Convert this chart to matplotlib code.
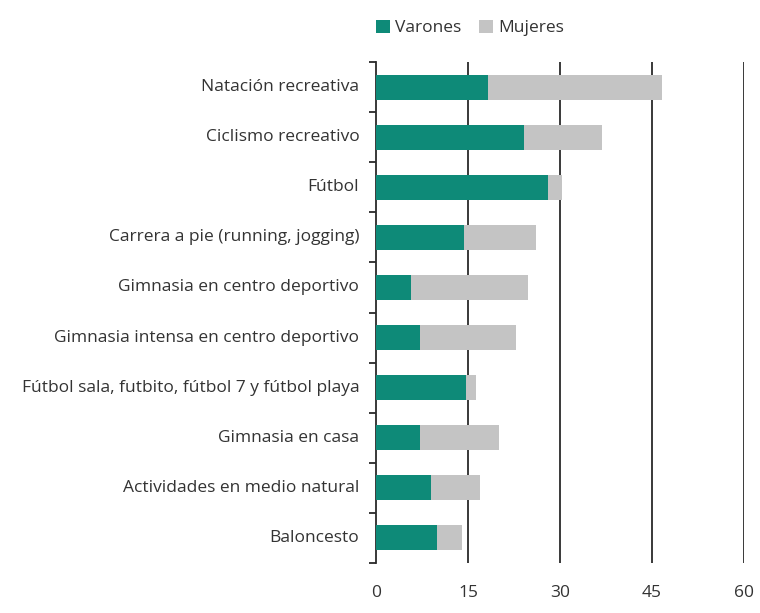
import numpy as np
import matplotlib
matplotlib.use('Agg')
import matplotlib.pyplot as plt

plt.rcParams['font.family'] = ['Open Sans', 'DejaVu Sans']

categorias = ['Natación recreativa', 'Ciclismo recreativo', 'Fútbol',
              'Carrera a pie (running, jogging)', 'Gimnasia en centro deportivo',
              'Gimnasia intensa en centro deportivo',
              'Fútbol sala, futbito, fútbol 7 y fútbol playa', 'Gimnasia en casa',
              'Actividades en medio natural', 'Baloncesto']
varones = [18.2, 24.2, 28.0, 14.3, 5.7, 7.2, 14.6, 7.1, 9.0, 10.0]
mujeres = [28.5, 12.7, 2.3, 11.8, 19.1, 15.6, 1.7, 12.9, 8.0, 4.0]
xticks = [0, 15, 30, 45, 60]

TEAL = '#0e8a78'; GRIS = '#c4c4c4'; TXT = '#333333'

fig = plt.figure(figsize=(7.6, 6.13), dpi=100)
ax = fig.add_axes([376/760, 1-563/613, (744-376)/760, (563-62)/613])
y = np.arange(len(categorias))
ax.barh(y, varones, height=0.5, color=TEAL, label='Varones', zorder=3)
ax.barh(y, mujeres, left=varones, height=0.5, color=GRIS, label='Mujeres', zorder=3)

for xv in xticks[1:]:
    ax.axvline(xv, color='#2a2a2a', lw=1.3, zorder=1)

ax.set_xlim(0, 60)
ax.set_ylim(len(categorias)-0.5, -0.5)
ax.set_xticks(xticks)
ax.set_xticklabels([str(v) for v in xticks], fontsize=12.5, color=TXT)
ax.tick_params(axis='x', length=0, pad=16)
ax.set_yticks(y - 0.04)
ax.set_yticklabels(categorias, fontsize=12.5, color=TXT)
ax.tick_params(axis='y', which='major', length=0, pad=12)
ax.set_yticks(np.arange(-0.5, len(categorias)), minor=True)
ax.tick_params(axis='y', which='minor', length=5, width=1.3, color='#2a2a2a', direction='out')
for s in ['top', 'right', 'bottom']:
    ax.spines[s].set_visible(False)
ax.spines['left'].set_color('#2a2a2a'); ax.spines['left'].set_linewidth(1.3)

fig.legend(loc='center', bbox_to_anchor=(470/760, 1-28/613), ncol=2, frameon=False,
           fontsize=12.5, handlelength=0.8, handleheight=0.8, handletextpad=0.3,
           columnspacing=1.0, labelcolor=TXT)

fig.savefig('out.png', dpi=100, facecolor='white')
